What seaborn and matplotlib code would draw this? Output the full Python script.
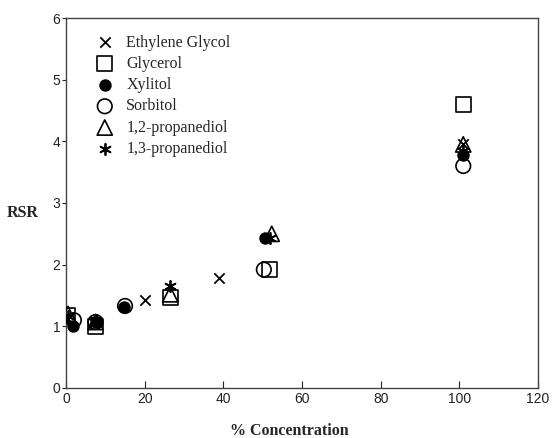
import pandas as pd
import seaborn as sns
import matplotlib.pyplot as plt

# % concentration / RSR
compounds = ["Ethylene Glycol", "Glycerol", "Xylitol", "Sorbitol",
             "1,2-propanediol", "1,3-propanediol"]

eg_conc = [0.5, 7, 20, 39, 101]
eg_rsr = [1.12, 1.05, 1.43, 1.78, 3.95]

gly_conc = [0.5, 7.5, 26.5, 51.8, 101]
gly_rsr = [1.18, 1.0, 1.47, 1.92, 4.6]

xyl_conc = [1.8, 7.5, 14.7, 50.5, 101]
xyl_rsr = [1.0, 1.07, 1.32, 2.43, 3.78]

sor_conc = [2.0, 7.5, 15, 50.3, 101]
sor_rsr = [1.1, 1.07, 1.33, 1.92, 3.6]

p12_conc = [0.5, 7.5, 26.5, 52.3, 101]
p12_rsr = [1.2, 1.07, 1.52, 2.5, 3.95]

p13_conc = [0.5, 7.5, 26.5, 51.8, 101]
p13_rsr = [1.17, 1.1, 1.65, 2.43, 3.85]

x_ticks = [0, 20, 40, 60, 80, 100, 120]
y_ticks = [0, 1, 2, 3, 4, 5, 6]

series = [eg_conc, gly_conc, xyl_conc, sor_conc, p12_conc, p13_conc]
values = [eg_rsr, gly_rsr, xyl_rsr, sor_rsr, p12_rsr, p13_rsr]

df = pd.concat(
    [pd.DataFrame({"conc": c, "rsr": v, "compound": name})
     for name, c, v in zip(compounds, series, values)],
    ignore_index=True,
)

# marker, facecolor, size
styles = {
    "Ethylene Glycol": ("x", None, 55),
    "Glycerol": ("s", "none", 110),
    "Xylitol": ("o", "black", 60),
    "Sorbitol": ("o", "none", 110),
    "1,2-propanediol": ("^", "none", 120),
    "1,3-propanediol": ((6, 2, 0), None, 65),
}

sns.set_style("white")
plt.rcParams["font.family"] = ["Liberation Sans", "DejaVu Sans"]

fig = plt.figure(figsize=(5.52, 4.38), dpi=100)
ax = fig.add_axes([0.1196, 0.1142, 0.855, 0.8447])

for name in compounds:
    sub = df[df["compound"] == name]
    marker, fc, size = styles[name]
    kw = dict(marker=marker, s=size, ax=ax, label=name, zorder=3)
    if fc is None:
        kw.update(color="black", linewidth=1.3)
    else:
        kw.update(facecolor=fc, edgecolor="black", linewidth=1.2)
    sns.scatterplot(data=sub, x="conc", y="rsr", **kw)

ax.set_xlim(0, 120)
ax.set_ylim(0, 6)
ax.set_xticks(x_ticks)
ax.set_yticks(y_ticks)

for sp in ax.spines.values():
    sp.set_visible(True)
    sp.set_color("#444444")
    sp.set_linewidth(1.0)

ax.tick_params(axis="x", direction="in", length=5, width=0.8, pad=3,
               labelsize=10, colors="#222222")
ax.tick_params(axis="y", direction="out", length=3, width=0.8, pad=1,
               labelsize=10, colors="#222222")
ax.tick_params(left=True, bottom=True)

ax.set_xlabel("% Concentration", family="Liberation Serif",
              fontweight="bold", fontsize=11.5, va="top")
ax.xaxis.set_label_coords(0.473, -0.096)
ax.set_ylabel("RSR", family="Liberation Serif", fontweight="bold",
              fontsize=11.5, rotation=0, va="center", ha="center")
ax.yaxis.set_label_coords(-0.091, 0.473)

leg = ax.legend(loc="upper left", frameon=False,
                prop={"family": "Liberation Serif", "size": 11.5},
                labelspacing=0.33, handletextpad=0.55, handlelength=1.6,
                borderaxespad=0.0, borderpad=0.0,
                bbox_to_anchor=(0.055, 0.955))

fig.savefig("out.png", dpi=100)
